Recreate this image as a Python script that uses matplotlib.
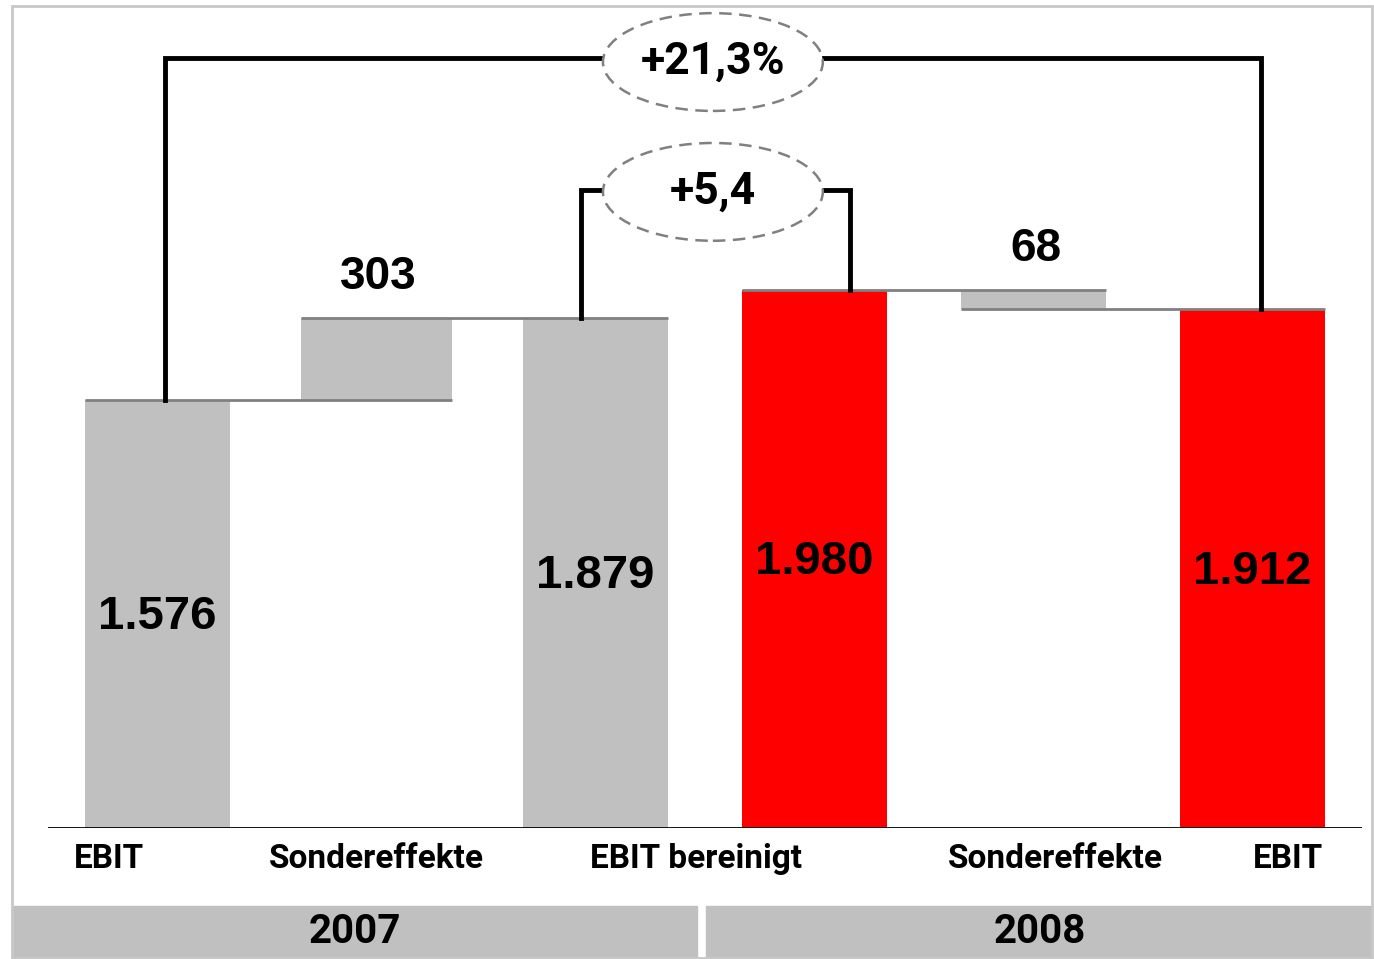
import matplotlib.pyplot as plt
from matplotlib.patches import Ellipse, Rectangle
import matplotlib.transforms as mtransforms

# data
categories = ["EBIT", "Sondereffekte", "EBIT bereinigt", "", "Sondereffekte", "EBIT"]
bar_bottoms = [0, 1576, 0, 0, 1912, 0]
bar_heights = [1576, 303, 1879, 1980, 68, 1912]
bar_colors = ["#c0c0c0", "#c0c0c0", "#c0c0c0", "#ff0000", "#c0c0c0", "#ff0000"]
value_labels = ["1.576", "303", "1.879", "1.980", "68", "1.912"]
years = ["2007", "2008"]
growth_total = "+21,3%"
growth_adjusted = "+5,4"

plt.rcParams['font.family'] = ['Liberation Sans', 'DejaVu Sans']
narrow = ['Roboto', 'DejaVu Sans']

fig = plt.figure(figsize=(13.74, 9.59), dpi=100)
ax = fig.add_axes([48 / 1374, 131 / 959, 1314 / 1374, 823 / 959])
ax.set_xlim(-0.5, 5.5)
ax.set_ylim(0, 3030)
ax.axis('off')

w = 0.66
widths = [w, 0.69, w, w, w, w]
x = list(range(len(bar_heights)))
ax.bar(x, bar_heights, bottom=bar_bottoms, width=widths, color=bar_colors, zorder=2)
ax.axhline(0, color='black', lw=2, zorder=3)

# grey connector lines between bar tops
ax.hlines(1576, 0 - w / 2, 1 + 0.69 / 2, color='#808080', lw=2, zorder=3)
ax.hlines(1879, 1 - 0.69 / 2, 2 + w / 2, color='#808080', lw=2, zorder=3)
ax.hlines(1980, 3 - w / 2, 4 + w / 2, color='#808080', lw=2, zorder=3)
ax.hlines(1912, 4 - w / 2, 5 + w / 2, color='#808080', lw=2, zorder=3)

# value labels
for i in x:
    if i in (1, 4):
        ax.text(i + 0.01, bar_bottoms[i] + bar_heights[i] + 150, value_labels[i],
                ha='center', va='center', fontsize=33, fontweight='bold', zorder=5)
    else:
        ax.text(i, bar_heights[i] / 2 - 12, value_labels[i], ha='center', va='center',
                fontsize=34, fontweight='bold', zorder=5)

# category labels
trans = mtransforms.blended_transform_factory(ax.transData, ax.transAxes)
label_x = [-0.22, 1.0, 2.46, None, 4.1, 5.16]
for lx, name in zip(label_x, categories):
    if lx is None:
        continue
    ax.text(lx, -31 / 823, name, transform=trans, ha='center', va='center',
            fontsize=24, fontweight='bold', family=narrow)

# brackets
ax.plot([0.036, 0.036, 5.04, 5.04], [1576, 2835, 2835, 1912], color='black', lw=3.5,
        solid_joinstyle='miter', zorder=4)
ax.plot([1.934, 1.934, 3.16, 3.16], [1879, 2349, 2349, 1980], color='black', lw=3.5,
        solid_joinstyle='miter', zorder=4)
for cy, txt in [(2820, growth_total), (2342, growth_adjusted)]:
    ax.add_patch(Ellipse((2.536, cy), 1.004, 360, facecolor='white', edgecolor='#808080',
                         lw=1.8, ls=(0, (5, 3)), zorder=5))
    ax.text(2.536, cy, txt, ha='center', va='center', fontsize=32, fontweight='bold',
            family=narrow, zorder=6)

# year band and frame
fig.patches.append(Rectangle((12 / 1374, 1 / 959), 685 / 1374, 52 / 959,
                             transform=fig.transFigure, color='#c0c0c0', zorder=0))
fig.patches.append(Rectangle((706 / 1374, 1 / 959), 666 / 1374, 52 / 959,
                             transform=fig.transFigure, color='#c0c0c0', zorder=0))
fig.patches.append(Rectangle((12 / 1374, 1 / 959), 1360 / 1374, 952 / 959, fill=False,
                             transform=fig.transFigure, edgecolor='#c8c8c8', lw=2, zorder=0))
fig.text(355 / 1374, 1 - 932 / 959, years[0], ha='center', va='center', fontsize=29,
         fontweight='bold', family=narrow)
fig.text(1040 / 1374, 1 - 932 / 959, years[1], ha='center', va='center', fontsize=29,
         fontweight='bold', family=narrow)

fig.savefig("out.png", dpi=100)
